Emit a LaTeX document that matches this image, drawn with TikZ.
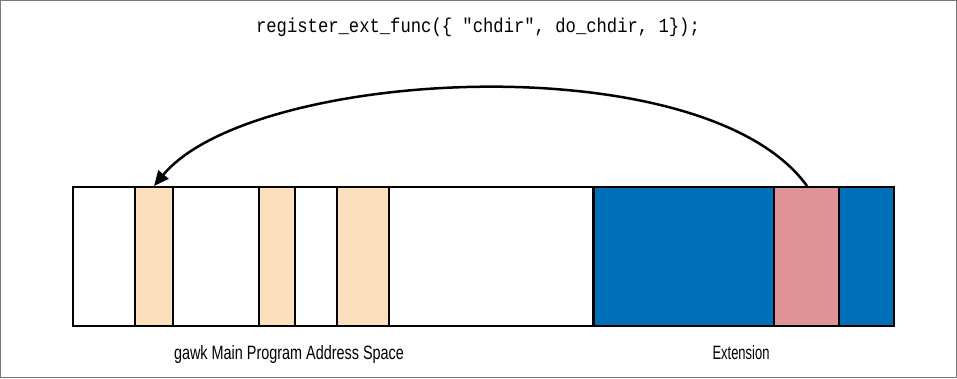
\documentclass[tikz,border=0pt]{standalone}
\usepackage{fontspec}
\usepackage{graphicx}
\setmainfont{Liberation Sans}
\newfontfamily\codefont{Liberation Mono}
\usetikzlibrary{arrows.meta}
\definecolor{tanfill}{RGB}{252,223,189}
\definecolor{bluefill}{RGB}{0,111,186}
\definecolor{pinkfill}{RGB}{222,147,151}
\definecolor{framegray}{RGB}{120,120,120}
\tikzset{
  seg/.style={draw=black, line width=2pt, anchor=north west, inner sep=0pt, minimum height=139pt},
  label/.style={inner sep=0pt, anchor=base},
}
\begin{document}
\begin{tikzpicture}[x=1pt,y=-1pt]
\useasboundingbox (0,0) rectangle (957,378);
\draw[framegray, line width=1pt] (0.5,0.5) rectangle (956.5,377.5);
% main program space
\node[seg, minimum width=520pt] (main) at (72,186) {};
\node[seg, fill=tanfill, minimum width=38pt] (t1) at (134,186) {};
\node[seg, fill=tanfill, minimum width=36pt] (t2) at (258,186) {};
\node[seg, fill=tanfill, minimum width=52pt] (t3) at (336,186) {};
% extension
\node[seg, fill=bluefill, minimum width=300pt] (ext) at (593,186) {};
\node[seg, fill=pinkfill, minimum width=65pt] (pk) at (773,186) {};
% labels
\node[label] (code) at (478,32) {\scalebox{0.86}[1]{\fontsize{20}{24}\selectfont\codefont register\_ext\_func(\{ "chdir", do\_chdir, 1\});}};
\node[label] (lmain) at (289,359) {\resizebox{230pt}{14pt}{gawk Main Program Address Space}};
\node[label] (lext) at (741,359) {\resizebox{57pt}{14pt}{Extension}};
% arrow
\draw[line width=2.5pt, -{Triangle[length=15pt,width=13pt]}]
  ([xshift=0.5pt]pk.north) .. controls (704,43) and (252,68) .. (t1.north);
\end{tikzpicture}
\end{document}
